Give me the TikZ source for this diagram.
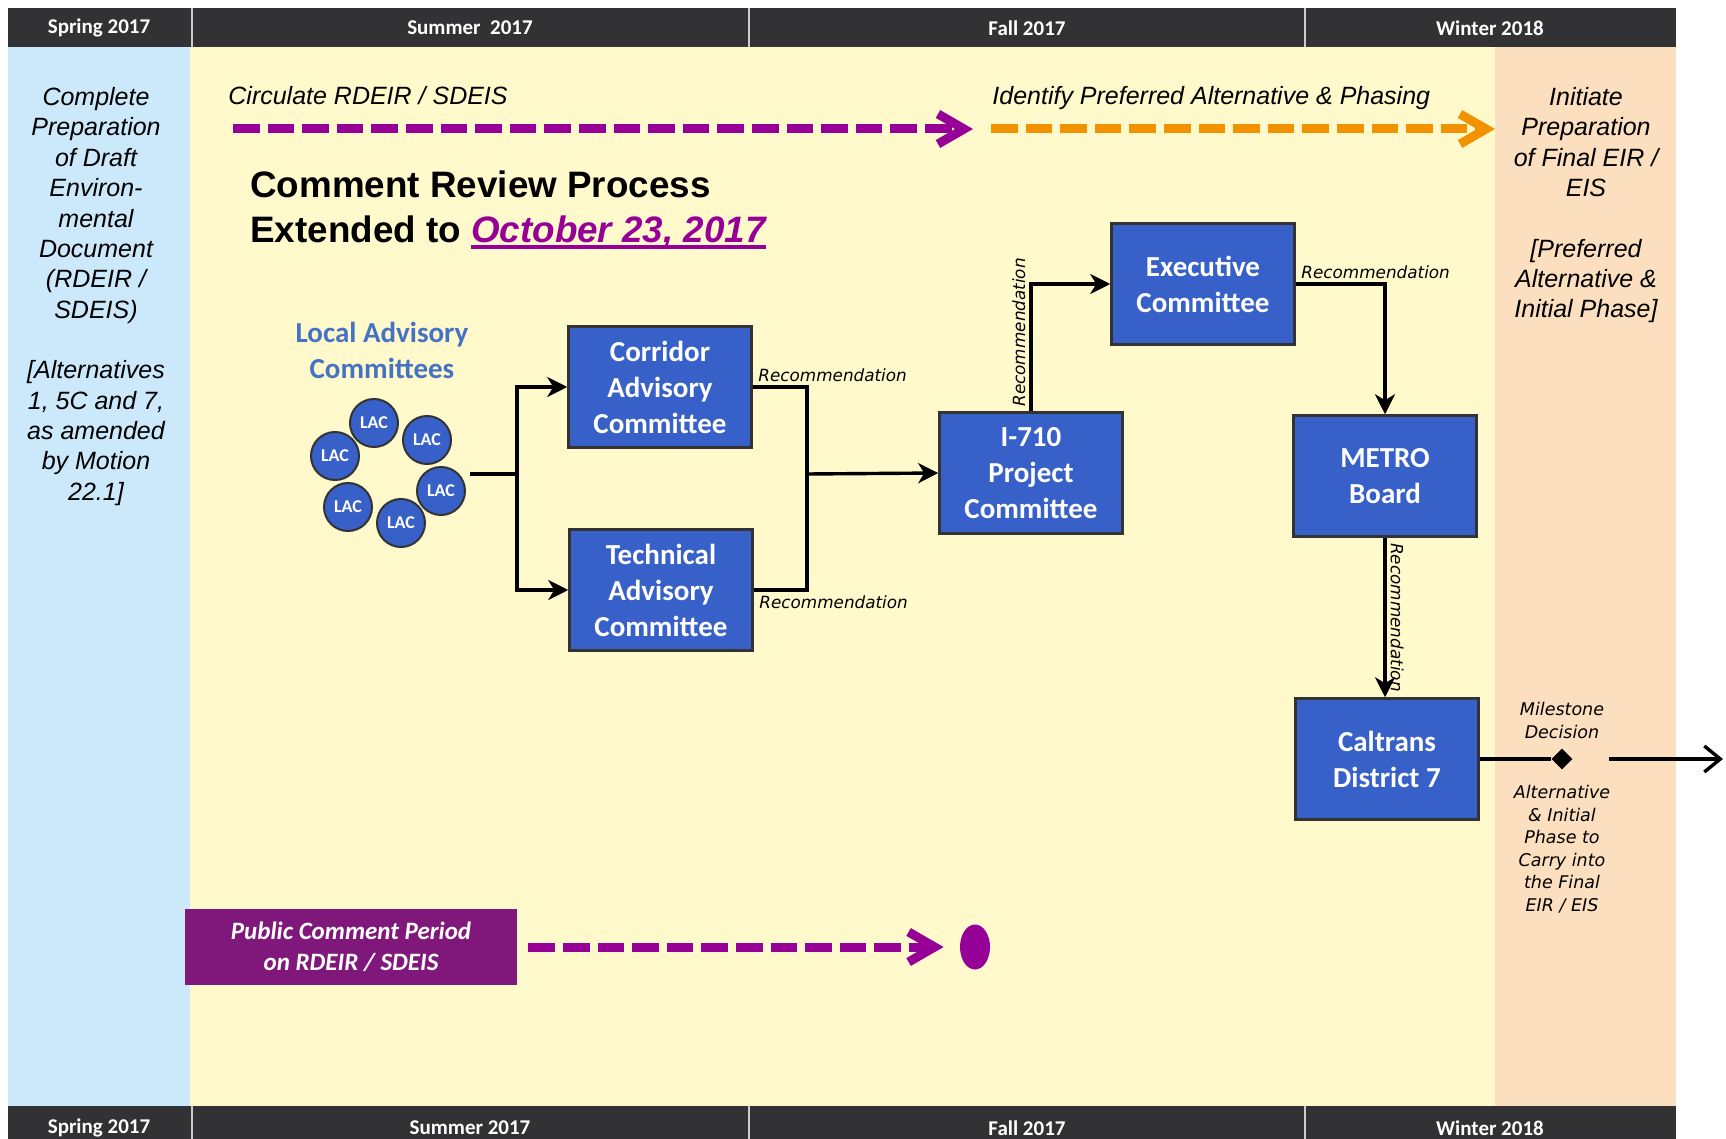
\documentclass[tikz,border=0pt]{standalone}
\usepackage{fontspec}
\usepackage{tikz}
\usetikzlibrary{shapes,shapes.geometric,positioning,arrows.meta}

\newfontfamily\calibri{Carlito}
\newfontfamily\arial{Liberation Sans}
\newfontfamily\comic{DejaVu Sans}
\newcommand{\thickuline}[1]{\sbox0{#1}\rlap{\rule[-3.3pt]{\wd0}{1.6pt}}\usebox0}

\definecolor{bargray}{RGB}{50,50,52}
\definecolor{springblue}{RGB}{204,232,251}
\definecolor{summeryellow}{RGB}{255,249,204}
\definecolor{winterpeach}{RGB}{252,223,190}
\definecolor{boxblue}{RGB}{55,96,200}
\definecolor{lacblue}{RGB}{68,114,196}
\definecolor{dashpurple}{RGB}{150,0,150}
\definecolor{dashorange}{RGB}{243,146,0}
\definecolor{pcppurple}{RGB}{128,24,124}

\begin{document}
\begin{tikzpicture}[x=0.5pt,y=-0.5pt,
    season/.style={text=white,font=\calibri\bfseries\fontsize{10.5}{12}\selectfont},
    committee/.style={draw=black!80,line width=1.25pt,fill=boxblue,text=white,align=center,
      minimum width=91.5pt,minimum height=60.5pt,inner sep=0pt,
      font=\calibri\bfseries\fontsize{14.5}{18}\selectfont},
    lac/.style={circle,draw=black!80,line width=1pt,fill=boxblue,text=white,
      minimum size=24pt,inner sep=0pt,font=\calibri\bfseries\fontsize{9}{10}\selectfont},
    note/.style={font=\arial\itshape\fontsize{12.5}{15.2}\selectfont,align=center,inner sep=0pt},
    rec/.style={font=\comic\itshape\fontsize{8.4}{10}\selectfont,inner sep=2pt},
    small/.style={font=\comic\itshape\fontsize{8.75}{11.3}\selectfont,align=center,inner sep=0pt},
    joint/.style={line width=1.7pt},
    link/.style={line width=1.7pt,-{Stealth[length=10pt,width=10pt,inset=3pt]}},
    bigdash/.style={line width=4.5pt,dash pattern=on 13.3pt off 4pt,
      -{Straight Barb[length=13pt,width=15pt]}},
  ]
    % background
    \useasboundingbox (0,0) rectangle (1726,1139);
    \fill[white] (0,0) rectangle (1726,1139);
    \fill[springblue] (8,47) rectangle (190,1106);
    \fill[summeryellow] (190,47) rectangle (1495,1106);
    \fill[winterpeach] (1495,47) rectangle (1676,1106);
    \fill[bargray] (8,8) rectangle (1676,47);
    \fill[bargray] (8,1106) rectangle (1676,1139);
    \draw[gray!40,line width=0.75pt] (192,8) -- (192,47) (749,8) -- (749,47) (1305,8) -- (1305,47);
    \draw[gray!40,line width=0.75pt] (192,1106) -- (192,1139) (749,1106) -- (749,1139) (1305,1106) -- (1305,1139);

    % seasons
    \node[season] (springtop) at (99,28) {Spring 2017};
    \node[season] (summertop) at (470,28) {Summer~ 2017};
    \node[season] (falltop) at (1027,28) {Fall 2017};
    \node[season] (wintertop) at (1490,28) {Winter 2018};
    \node[season] (springbot) at (99,1128) {Spring 2017};
    \node[season] (summerbot) at (470,1128) {Summer 2017};
    \node[season] (fallbot) at (1027,1128) {Fall 2017};
    \node[season] (winterbot) at (1490,1128) {Winter 2018};

    % spring and winter columns
    \node[note,anchor=north] (draftdoc) at (96,87) {Complete\\Preparation\\of Draft\\Environ-\\mental\\Document\\(RDEIR /\\SDEIS)\\[15pt][Alternatives\\1, 5C and 7,\\as amended\\by Motion\\22.1]};
    \node[note,anchor=north] (finaldoc) at (1586,87) {Initiate\\Preparation\\of Final EIR /\\EIS\\[15pt][Preferred\\Alternative \&\\Initial Phase]};

    % top arrows
    \node[note,anchor=base west] (circulate) at (228,105) {Circulate RDEIR / SDEIS};
    \node[note,anchor=base west] (identify) at (992,105) {Identify Preferred Alternative \& Phasing};
    \coordinate (circstart) at (233,129);
    \coordinate (circend) at (973,129);
    \coordinate (prefstart) at (991,129);
    \coordinate (prefend) at (1495,129);
    \draw[bigdash,dashpurple] (circstart) -- (circend);
    \draw[bigdash,dashorange] (prefstart) -- (prefend);

    % title
    \node[anchor=north west,align=left,inner sep=0pt,font=\arial\bfseries\fontsize{18.4}{22.5}\selectfont] (title) at (250,170)
      {Comment Review Process\\Extended to {\itshape\color{dashpurple}\thickuline{October 23, 2017}}};

    % LACs
    \node[align=center,text=lacblue,font=\calibri\bfseries\fontsize{14.5}{18}\selectfont] (laclabel) at (382,350) {Local Advisory\\Committees};
    \foreach \n/\xx/\yy in {1/374/423,2/427/440,3/335/456,4/441/491,5/348/507,6/401/523}
      \node[lac] (lac\n) at (\xx,\yy) {LAC};
    \coordinate (lacout) at (470,474);
    \coordinate (splitbus) at (517,474);
    \coordinate (mergebus) at (807,474);

    % committees
    \node[committee] (cac) at (660,387) {Corridor\\Advisory\\Committee};
    \node[committee] (tac) at (661,590) {Technical\\Advisory\\Committee};
    \node[committee] (pc) at (1031,473) {I-710\\Project\\Committee};
    \node[committee] (ec) at (1203,284) {Executive\\Committee};
    \node[committee] (metro) at (1385,476) {METRO\\Board};
    \node[committee] (cd7) at (1387,759) {Caltrans\\District 7};

    \draw[joint] (lacout) -- (splitbus);
    \draw[link] (splitbus) |- (cac.west);
    \draw[link] (splitbus) |- (tac.west);
    \draw[joint] (cac.east) node[rec,anchor=south west] {Recommendation} -| (mergebus);
    \draw[joint] (tac.east) node[rec,anchor=north west] {Recommendation} -| (mergebus);
    \draw[link] (mergebus) -- (pc.west);
    \draw[link] (pc.north) |- node[rec,rotate=90,anchor=south,pos=0.31] {Recommendation} (ec.west);
    \draw[link] (ec.east) node[rec,anchor=south west] {Recommendation} -| (metro.north);
    \draw[link] (metro.south) -- node[rec,rotate=-90,anchor=south,pos=0.5] {Recommendation} (metro.south |- cd7.north);

    % milestone
    \node[diamond,fill=black,minimum size=10.5pt,inner sep=0pt] (milestone) at (1562,759) {};
    \draw[joint] (cd7.east) -- (milestone);
    \node[small,above=4.5pt of milestone] (mslabel) {Milestone\\Decision};
    \node[small,below=7.5pt of milestone] (mscarry) {Alternative\\\& Initial\\Phase to\\Carry into\\the Final\\EIR / EIS};
    \coordinate (nextfrom) at (1609,759);
    \coordinate (nextto) at (1723,759);
    \draw[line width=1.7pt,-{Straight Barb[length=8pt,width=13pt]}] (nextfrom) -- (nextto);

    % public comment
    \node[fill=pcppurple,text=white,align=center,minimum width=166pt,minimum height=38pt,
      font=\calibri\bfseries\itshape\fontsize{12.5}{15.5}\selectfont] (pcp) at (351,947) {Public Comment Period\\on RDEIR / SDEIS};
    \node[ellipse,fill=dashpurple,minimum width=15pt,minimum height=22.5pt,inner sep=0pt] (deadline) at (975,947) {};
    \draw[bigdash,dashpurple] ([xshift=5.5pt]pcp.east) -- ([xshift=-8pt]deadline.west);
\end{tikzpicture}
\end{document}
